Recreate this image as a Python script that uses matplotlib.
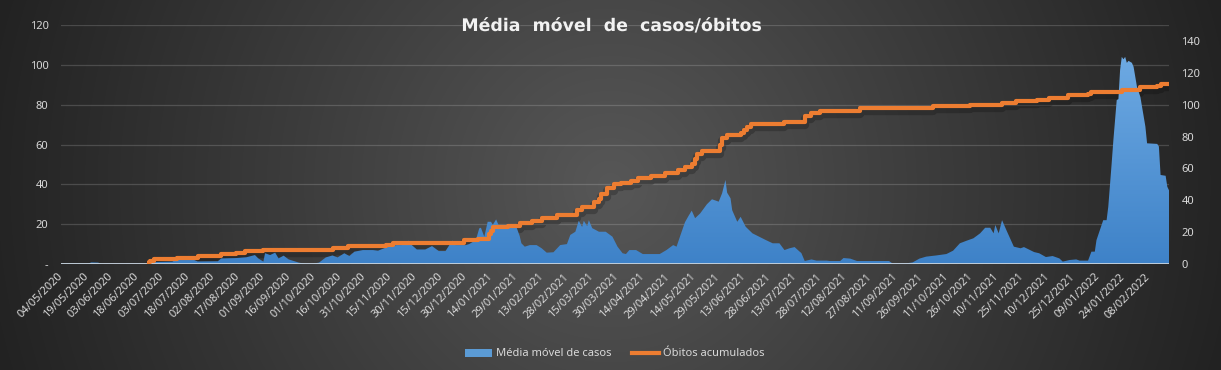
import numpy as np
import pandas as pd
import matplotlib
matplotlib.use("Agg")
import matplotlib.pyplot as plt
import matplotlib.dates as mdates
import matplotlib.patheffects as pe
from matplotlib.colors import LinearSegmentedColormap
from matplotlib.transforms import offset_copy
from matplotlib.lines import Line2D
from matplotlib.patches import Patch

plt.rcParams["font.family"] = ["Noto Sans", "DejaVu Sans"]

# ---- data (day index counted from 04/05/2020) ----
start = "2020-05-04"
last_day = 657

case_idx = [0, 16, 18, 22, 24, 52, 54, 66, 68, 79, 81, 93, 95, 104, 110, 115, 117, 120,
            121, 124, 127, 129, 132, 135, 141, 145, 149, 153, 157, 161, 164, 168, 171,
            174, 179, 185, 188, 191, 195, 199, 202, 206, 208, 211, 216, 220, 224, 228,
            232, 234, 240, 242, 246, 248, 249, 251, 253, 255, 256, 258, 260, 270, 272,
            273, 275, 278, 282, 285, 288, 292, 296, 300, 302, 305, 307, 309, 310, 312,
            313, 315, 319, 323, 327, 330, 333, 335, 337, 341, 345, 355, 359, 363, 365,
            367, 370, 372, 374, 376, 379, 383, 386, 390, 392, 394, 395, 397, 398, 401,
            403, 406, 410, 414, 418, 422, 426, 429, 432, 435, 438, 439, 441, 445, 448,
            454, 456, 462, 464, 468, 472, 491, 493, 501, 505, 509, 513, 519, 525, 529,
            533, 537, 541, 545, 548, 551, 553, 554, 556, 558, 561, 565, 569, 571, 577,
            580, 584, 588, 592, 594, 598, 602, 604, 609, 611, 613, 614, 616, 618, 620,
            621, 623, 624, 626, 627, 628, 629, 630, 631, 632, 633, 635, 636, 638, 640,
            642, 643, 644, 650, 651, 652, 655, 656, 657]
case_avg = [0.2, 0.2, 0.8, 0.7, 0.1, 0.1, 1.0, 1.2, 2.0, 2.0, 1.3, 1.4, 2.8, 3.0, 3.4, 4.5, 2.8, 1.2,
            5.4, 4.5, 5.7, 2.8, 4.2, 2.3, 0.7, 0.1, 0.1, 0.7, 3.3, 4.3, 3.3, 5.4, 4.0,
            6.2, 7.0, 7.0, 6.7, 7.7, 9.0, 9.5, 9.5, 11.7, 9.5, 7.3, 7.3, 9.0, 6.5, 6.5,
            11.8, 9.5, 9.5, 10.0, 12.0, 17.9, 18.2, 13.7, 21.2, 21.2, 19.6, 22.4, 18.5, 18.7, 14.0,
            10.4, 8.7, 9.5, 9.5, 7.9, 5.7, 5.9, 9.5, 10.0, 14.6, 16.2, 21.7, 18.6, 21.7, 19.0,
            22.0, 18.0, 16.2, 16.2, 13.7, 8.7, 5.4, 5.0, 7.0, 7.0, 5.0, 5.0, 7.0, 9.5, 8.7,
            13.7, 21.0, 24.0, 26.8, 23.0, 25.4, 30.0, 32.5, 31.3, 35.5, 42.2, 35.8, 33.0, 27.0, 21.2,
            23.7, 18.7, 15.4, 13.7, 12.0, 10.4, 10.4, 7.0, 7.9, 8.5, 6.2, 5.5, 1.5, 2.3, 1.7,
            1.7, 1.5, 1.5, 3.0, 2.7, 1.5, 1.5, 0.3, 0.3, 0.8, 2.7, 3.7, 4.3, 5.0, 6.7,
            10.4, 11.7, 12.9, 15.4, 18.2, 18.2, 15.4, 19.6, 15.4, 22.0, 16.2, 8.7, 7.9, 8.5, 6.0,
            5.4, 3.5, 4.0, 2.8, 1.2, 2.0, 2.3, 1.7, 1.7, 6.2, 6.2, 12.0, 17.0, 22.0, 22.0,
            28.8, 50.5, 62.0, 82.3, 82.8, 97.4, 104.0, 102.8, 104.0, 101.0, 102.0, 101.0, 99.0, 89.0, 84.0,
            74.0, 69.0, 60.6, 60.3, 59.0, 44.7, 44.3, 38.8, 37.0]

death_idx = [51, 52, 53, 55, 69, 81, 95, 104, 109, 120, 161, 170, 193, 197, 239, 247, 254,
             255, 256, 265, 272, 279, 285, 294, 306, 309, 316, 319, 320, 324, 328, 332, 338,
             342, 350, 358, 366, 370, 374, 376, 377, 380, 391, 392, 395, 403, 405, 407, 409,
             429, 441, 445, 450, 474, 517, 539, 558, 566, 579, 586, 597, 609, 611, 629, 640,
             650, 652]
deaths_cum = [0, 1, 2, 3, 4, 5, 6, 7, 8, 9, 10, 11, 12, 13, 15, 16, 19,
              21, 23, 24, 26, 27, 29, 31, 34, 36, 39, 41, 44, 48, 50, 51, 52,
              54, 55, 57, 59, 61, 63, 66, 69, 71, 75, 79, 81, 82, 84, 86, 88,
              89, 93, 95, 96, 98, 99, 100, 101, 102, 103, 104, 106, 107, 108, 109, 111,
              112, 113]

left_ticks = [0, 20, 40, 60, 80, 100, 120]
left_labels = ["-", "20", "40", "60", "80", "100", "120"]
right_ticks = [0, 20, 40, 60, 80, 100, 120, 140]

t0 = pd.Timestamp(start)
case_x = t0 + pd.to_timedelta(case_idx, unit="D")
death_x = t0 + pd.to_timedelta(death_idx + [last_day], unit="D")
death_y = deaths_cum + [deaths_cum[-1]]
x_end = t0 + pd.Timedelta(days=last_day)
tick_dates = pd.date_range(t0, x_end, freq="15D")

txt = "#d9d9d9"
orange = "#ed7d31"

fig = plt.figure(figsize=(12.21, 3.70), dpi=100)

# radial background
bg = fig.add_axes([0, 0, 1, 1], zorder=-10)
yy, xx = np.mgrid[0:370, 0:1221]
dist = np.clip(np.hypot(xx - 610, yy - 185) / 640, 0, 1)
bg_cmap = LinearSegmentedColormap.from_list("bg", ["#575757", "#3c3c3c", "#222222"])
bg.imshow(dist, cmap=bg_cmap, aspect="auto", interpolation="bilinear")
bg.axis("off")

ax = fig.add_axes([61 / 1221, 1 - 264 / 370, (1169 - 61) / 1221, (264 - 25) / 370])
ax2 = ax.twinx()
for a in (ax, ax2):
    a.patch.set_visible(False)
    for s in a.spines.values():
        s.set_visible(False)

ax.set_xlim(t0, x_end)
ax.set_ylim(0, 120)
ax2.set_ylim(0, 150)

# blue area with vertical gradient
poly = ax.fill_between(case_x, case_avg, 0, color="none", lw=0, zorder=2)
grad = np.linspace(1, 0, 256).reshape(-1, 1)
blue_cmap = LinearSegmentedColormap.from_list("bl", ["#3e82c8", "#6eaae3"])
x0n, x1n = mdates.date2num(t0), mdates.date2num(x_end)
img = ax.imshow(grad, cmap=blue_cmap, aspect="auto", extent=[x0n, x1n, 0, 105],
                zorder=2, origin="upper")
img.set_clip_path(poly.get_paths()[0], transform=ax.transData)
ax.set_xlim(t0, x_end)
ax.set_ylim(0, 120)

# soft shadow of the deaths line, drawn under the area
ax.plot(death_x, death_y, drawstyle="steps-post", color="black", alpha=0.22, lw=6,
        solid_capstyle="butt", zorder=1,
        transform=offset_copy(ax2.transData, fig=fig, x=0, y=-3, units="dots"))

ax.axhline(0, color="#c9d3dd", lw=1.3, zorder=3)
ax.grid(axis="y", color="white", alpha=0.16, lw=0.9)
ax.set_axisbelow(True)

ax2.plot(death_x, death_y, drawstyle="steps-post", color=orange, lw=3,
         solid_capstyle="butt", zorder=5)

ax.set_yticks(left_ticks)
ax.set_yticklabels(left_labels)
ax2.set_yticks(right_ticks)
ax.tick_params(axis="y", length=0, pad=9, labelsize=8, labelcolor=txt)
ax2.tick_params(axis="y", length=0, pad=9, labelsize=8, labelcolor=txt)

ax.set_xticks(tick_dates)
ax.xaxis.set_major_formatter(mdates.DateFormatter("%d/%m/%Y"))
ax.tick_params(axis="x", length=0, pad=8, labelsize=8, labelcolor=txt)
for lab in ax.get_xticklabels():
    lab.set_rotation(45)
    lab.set_ha("right")
    lab.set_va("center")
    lab.set_rotation_mode("anchor")

fig.text(0.501, 1 - 26 / 370, "Média  móvel  de  casos/óbitos", ha="center", va="center",
         fontsize=12.5, fontweight="bold", color="#f2f2f2", family="DejaVu Sans",
         path_effects=[pe.SimplePatchShadow(offset=(1.2, -1.2), alpha=0.6), pe.Normal()])

handles = [Patch(facecolor="#5b9bd5", edgecolor="none"),
           Line2D([0], [0], color=orange, lw=3)]
fig.legend(handles, ["Média móvel de casos", "Óbitos acumulados"], loc="center",
           bbox_to_anchor=(615 / 1221, 1 - 354 / 370), ncol=2, frameon=False,
           fontsize=8, labelcolor=txt, handlelength=2.4, handletextpad=0.4,
           columnspacing=1.8)

fig.savefig("out.png", dpi=100)
